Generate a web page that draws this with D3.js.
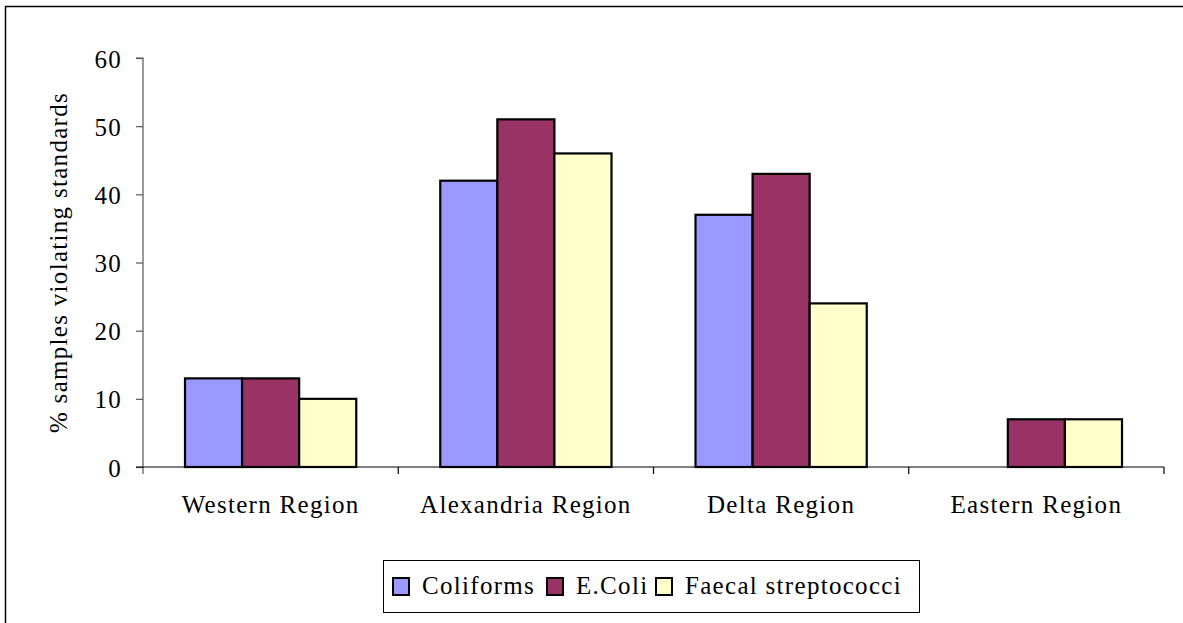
<!DOCTYPE html>
<html>
<head>
<meta charset="utf-8">
<script src="https://cdn.jsdelivr.net/npm/d3@7"></script>
<style>
  html, body { margin: 0; padding: 0; background: #fff; }
  svg { display: block; }
  text { font-family: "Liberation Serif", "Times New Roman", serif; fill: #000; letter-spacing: 1.3px; }
</style>
</head>
<body>
<svg id="chart" width="1183" height="623"></svg>
<script>
// Regions along the category axis
const regions = ["Western Region", "Alexandria Region", "Delta Region", "Eastern Region"];
// Indicator organisms (series)
const seriesNames = ["Coliforms", "E.Coli", "Faecal streptococci"];
const seriesColors = ["#9999FF", "#993366", "#FFFFCC"];
// % samples violating standards, per region
const coliforms = [13, 42, 37, 0];
const eColi = [13, 51, 43, 7];
const faecalStrep = [10, 46, 24, 7];
// Value axis ticks
const yTicks = [0, 10, 20, 30, 40, 50, 60];

const seriesValues = [coliforms, eColi, faecalStrep];

const svg = d3.select("#chart");
const W = 1183, H = 623;
const FS = 25;

// Outer chart frame
svg.append("rect")
  .attr("x", 5.5).attr("y", 6.5)
  .attr("width", W + 2).attr("height", H + 2)
  .attr("fill", "#fff").attr("stroke", "#000").attr("stroke-width", 1.5);

const plot = { left: 143, right: 1164, top: 58, bottom: 467 };

const x0 = d3.scaleBand().domain(regions).range([plot.left, plot.right]).paddingInner(0).paddingOuter(0);
const groupPad = 42;
const x1 = d3.scaleBand().domain(seriesNames)
  .range([groupPad, x0.bandwidth() - groupPad]).padding(0);
const y = d3.scaleLinear().domain([0, 60]).range([plot.bottom, plot.top]);

// Bars
const groups = svg.append("g").selectAll("g")
  .data(regions)
  .join("g")
  .attr("transform", d => `translate(${x0(d)},0)`);

groups.selectAll("rect")
  .data((r, i) => seriesNames.map((s, k) => ({ s, k, v: seriesValues[k][i] })).filter(d => d.v > 0))
  .join("rect")
  .attr("x", d => x1(d.s))
  .attr("y", d => y(d.v))
  .attr("width", x1.bandwidth())
  .attr("height", d => y(0) - y(d.v))
  .attr("fill", d => seriesColors[d.k])
  .attr("stroke", "#000")
  .attr("stroke-width", 2.2);

// Y axis
const yAxis = d3.axisLeft(y).tickValues(yTicks).tickSize(7).tickPadding(14);
const gy = svg.append("g").attr("transform", `translate(${plot.left},0)`).call(yAxis);
gy.attr("font-family", null).attr("font-size", null);
gy.select(".domain").attr("stroke", "#555").attr("stroke-width", 1.2)
  .attr("d", `M-7,${plot.top}H0V${plot.bottom + 7}`);
gy.selectAll(".tick line").attr("stroke", "#555").attr("stroke-width", 1.2);
gy.selectAll(".tick text").attr("font-size", FS).attr("fill", "#000")
  .attr("dy", "0.36em");

// X axis with ticks at category boundaries
const gx = svg.append("g").attr("transform", `translate(0,${plot.bottom})`);
gx.append("line").attr("x1", plot.left - 7).attr("x2", plot.right)
  .attr("y1", 0).attr("y2", 0).attr("stroke", "#000").attr("stroke-width", 1.2);
const bounds = regions.map(r => x0(r)).concat([x0(regions[regions.length - 1]) + x0.bandwidth()]);
gx.selectAll("line.tk").data(bounds.slice(1)).join("line").attr("class", "tk")
  .attr("x1", d => d).attr("x2", d => d).attr("y1", 0).attr("y2", 7)
  .attr("stroke", "#000").attr("stroke-width", 1.2);
gx.selectAll("text").data(regions).join("text")
  .attr("x", d => x0(d) + x0.bandwidth() / 2)
  .attr("y", 46)
  .attr("text-anchor", "middle")
  .attr("font-size", FS)
  .text(d => d);

// Y axis title
svg.append("text")
  .attr("transform", `translate(67,${(plot.top + plot.bottom) / 2}) rotate(-90)`)
  .attr("text-anchor", "middle")
  .attr("font-size", FS)
  .text("% samples violating standards");

// Legend
const lg = svg.append("g");
lg.append("rect").attr("x", 383.5).attr("y", 560.5).attr("width", 536).attr("height", 52)
  .attr("fill", "#fff").attr("stroke", "#000").attr("stroke-width", 1);
const legendX = [393, 547, 656];
seriesNames.forEach((s, k) => {
  lg.append("rect").attr("x", legendX[k]).attr("y", 578).attr("width", 16).attr("height", 17)
    .attr("fill", seriesColors[k]).attr("stroke", "#000").attr("stroke-width", 2);
  lg.append("text").attr("x", legendX[k] + 29).attr("y", 594).attr("font-size", FS).text(s);
});
</script>
</body>
</html>
